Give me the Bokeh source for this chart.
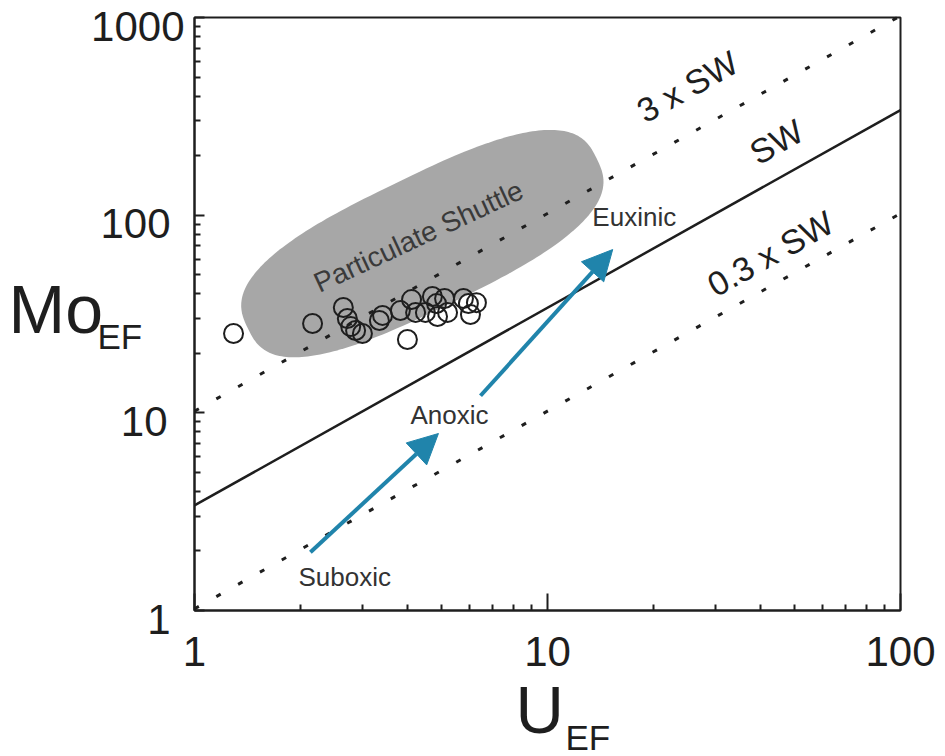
import numpy as np
from bokeh.plotting import figure
from bokeh.models import (Range1d, FixedTicker, PrintfTickFormatter, Label, LabelSet,
                          ColumnDataSource, Arrow, NormalHead, CustomLabelingPolicy)
from bokeh.core.properties import value
from bokeh.embed import file_html
from bokeh.resources import INLINE

# ---- sample enrichment factors -------------------------------------------
u_ef = [1.29, 2.16, 2.64, 2.71, 2.77, 2.86, 2.99, 3.34, 3.41, 3.83, 4.01, 4.12,
        4.23, 4.51, 4.72, 4.85, 4.88, 5.11, 5.21, 5.78, 5.97, 6.05, 6.29]
mo_ef = [25.2, 28.3, 34.1, 30.0, 27.3, 26.1, 25.2, 29.3, 31.1, 32.9, 23.5, 37.4,
         32.2, 32.2, 38.8, 35.7, 30.7, 37.9, 32.2, 37.9, 35.7, 31.4, 36.1]

# ---- seawater Mo/U reference lines ---------------------------------------
sw_ratio = 3.4
sw_multiples = [3.0, 1.0, 0.3]
sw_names = ["3 x SW", "SW", "0.3 x SW"]
sw_label_u = [24.9, 44.5, 42.8]
sw_label_mo = [447.0, 235.0, 63.9]

# ---- redox trend arrows (start U, start Mo, end U, end Mo) ----------------
arrow_u0 = [2.13, 6.46]
arrow_mo0 = [1.97, 12.2]
arrow_u1 = [4.91, 15.3]
arrow_mo1 = [7.86, 67.0]

stage_names = ["Suboxic", "Anoxic", "Euxinic"]
stage_u = [1.97, 4.09, 13.4]
stage_mo = [1.47, 9.8, 98.4]

# ---- axis ticks ------------------------------------------------------------
u_min, u_max = 1, 100
mo_min, mo_max = 1, 1000
x_ticks = [1, 10, 100]
y_ticks = [1, 10, 100, 1000]
y_tick_text = ["1", "10", "100", "1000"]

FONT = "Liberation Sans"
INK = "#1e1e1e"
BLUE = "#2084ab"

# canvas and plot-box geometry (pixels)
W, H = 945, 756
LEFT, RIGHT, TOP, BOTTOM = 194, 45, 17, 146
BOX_W, BOX_H = W - LEFT - RIGHT, H - TOP - BOTTOM
X_DEC = BOX_W / np.log10(u_max / u_min)     # px per decade along U
Y_DEC = BOX_H / np.log10(mo_max / mo_min)   # px per decade along Mo


def ux(px):
    """U value at a pixel offset from the plot box's left edge."""
    return u_min * 10 ** (px / X_DEC)


def my(px):
    """Mo value at a pixel offset above the plot box's bottom edge."""
    return mo_min * 10 ** (px / Y_DEC)


# The frame fills the canvas; the axes are pinned to the box corners so that
# titles and tick labels can sit in the margins.
p = figure(width=W, height=H, x_axis_type="log", y_axis_type="log",
           x_range=Range1d(ux(-LEFT), ux(BOX_W + RIGHT)),
           y_range=Range1d(my(-BOTTOM), my(BOX_H + TOP)),
           output_backend="svg", toolbar_location=None,
           min_border=0, min_border_left=0, min_border_right=0,
           min_border_top=0, min_border_bottom=0)
p.grid.visible = False
p.background_fill_color = "white"
p.border_fill_color = "white"
p.outline_line_color = None

minor = [m * 10 ** k for k in range(3) for m in range(2, 10)]
p.xaxis.ticker = FixedTicker(ticks=x_ticks, minor_ticks=minor)
p.yaxis.ticker = FixedTicker(ticks=y_ticks, minor_ticks=minor)
p.xaxis.fixed_location = mo_min
p.xaxis.bounds = (u_min, u_max)
p.yaxis.fixed_location = u_min
p.yaxis.bounds = (mo_min, mo_max)
for ax, tick_in in ((p.xaxis, 17), (p.yaxis, 10)):
    ax.axis_line_color = INK
    ax.axis_line_width = 2
    ax.major_tick_in = tick_in
    ax.major_tick_out = 0
    ax.minor_tick_in = 6
    ax.minor_tick_out = 0
    ax.major_tick_line_color = INK
    ax.minor_tick_line_color = INK
    ax.major_tick_line_width = 2
    ax.minor_tick_line_width = 2
    ax.major_label_text_font = FONT
    ax.major_label_text_font_size = "42px"
    ax.major_label_text_color = INK

p.xaxis.formatter = PrintfTickFormatter(format="%d")
p.xaxis.major_label_standoff = 26
# Mo tick labels hang a little below their ticks, drawn as a label set
p.yaxis.major_label_policy = CustomLabelingPolicy(
    code="for (const i of indices) { indices.unset(i) }\nreturn indices")

# plot box
p.quad(left=[u_min], right=[u_max], bottom=[mo_min], top=[mo_max],
       fill_color=None, line_color=INK, line_width=2)

# ---- particulate shuttle field (rounded, tilted blob) -------------------
cu, cmo = 4.42, 71.8          # field centre
a_px, b_px, tilt, n = 194.0, 66.0, np.radians(26.0), 2.8
t = np.linspace(0, 2 * np.pi, 240)
su = a_px * np.sign(np.cos(t)) * np.abs(np.cos(t)) ** (2 / n)
sv = b_px * np.sign(np.sin(t)) * np.abs(np.sin(t)) ** (2 / n)
dx = su * np.cos(tilt) + sv * np.sin(tilt)
dy_up = su * np.sin(tilt) - sv * np.cos(tilt)
field_u = cu * 10 ** (dx / X_DEC)
field_mo = cmo * 10 ** (dy_up / Y_DEC)
p.patch(field_u, field_mo, fill_color="#a7a7a7", line_color=None)

p.add_layout(Label(x=4.31, y=78.0, text="Particulate Shuttle", angle=25.0,
                   angle_units="deg", text_align="center", text_baseline="middle",
                   text_font=FONT, text_font_size="28px", text_color="#3a3a3a"))

# ---- seawater lines (kept inside the plot box) -----------------------------
for mult in sw_multiples:
    k = sw_ratio * mult
    u0 = max(u_min, mo_min / k)
    u1 = min(u_max, mo_max / k)
    lu = np.array([u0, u1])
    dash = "solid" if mult == 1.0 else "5 20"
    p.line(lu, k * lu, line_color=INK, line_width=2.5 if mult == 1.0 else 3,
           line_dash=dash, line_cap="butt")

line_angle = np.degrees(np.arctan(Y_DEC / X_DEC))
for name, lu, lm in zip(sw_names, sw_label_u, sw_label_mo):
    p.add_layout(Label(x=lu, y=lm, text=name, angle=line_angle, angle_units="deg",
                       text_align="center", text_baseline="middle",
                       text_font=FONT, text_font_size="34px", text_color=INK))

# ---- samples ---------------------------------------------------------------
p.scatter(u_ef, mo_ef, marker="circle", size=19, fill_color=None,
          line_color=INK, line_width=2)

# ---- redox arrows ------------------------------------------------------------
for u0, m0, u1, m1 in zip(arrow_u0, arrow_mo0, arrow_u1, arrow_mo1):
    p.add_layout(Arrow(x_start=u0, y_start=m0, x_end=u1, y_end=m1,
                       line_color=BLUE, line_width=4,
                       end=NormalHead(size=30, fill_color=BLUE, line_color=BLUE)))

stage_src = ColumnDataSource(dict(x=stage_u, y=stage_mo, text=stage_names))
p.add_layout(LabelSet(x="x", y="y", text="text", source=stage_src,
                      text_align="left", text_baseline="middle",
                      text_font=value(FONT), text_font_size="26px",
                      text_color="#333333"))

# ---- Mo tick labels ------------------------------------------------------------
label_right_px = [-24, -27, -24, -10]
ytl_src = ColumnDataSource(dict(x=[ux(v) for v in label_right_px], y=y_ticks,
                                text=y_tick_text))
p.add_layout(LabelSet(x="x", y="y", text="text", source=ytl_src, y_offset=-23,
                      text_align="right", text_baseline="alphabetic",
                      text_font=value(FONT), text_font_size="42px", text_color=INK))

# ---- axis titles with subscripts (left edge, baseline in box pixels) -------
title_text = ["Mo", "EF", "U", "EF"]
title_px = [(-186, 278), (-97, 262), (321, -122), (371, -139)]
title_size = ["68px", "35px", "67px", "35px"]
title_src = ColumnDataSource(dict(x=[ux(a) for a, b in title_px],
                                  y=[my(b) for a, b in title_px],
                                  text=title_text, size=title_size))
p.add_layout(LabelSet(x="x", y="y", text="text", source=title_src,
                      text_align="left", text_baseline="alphabetic",
                      text_font=value(FONT), text_font_size="size",
                      text_color=INK))

open("out.html", "w").write(file_html(p, INLINE))
